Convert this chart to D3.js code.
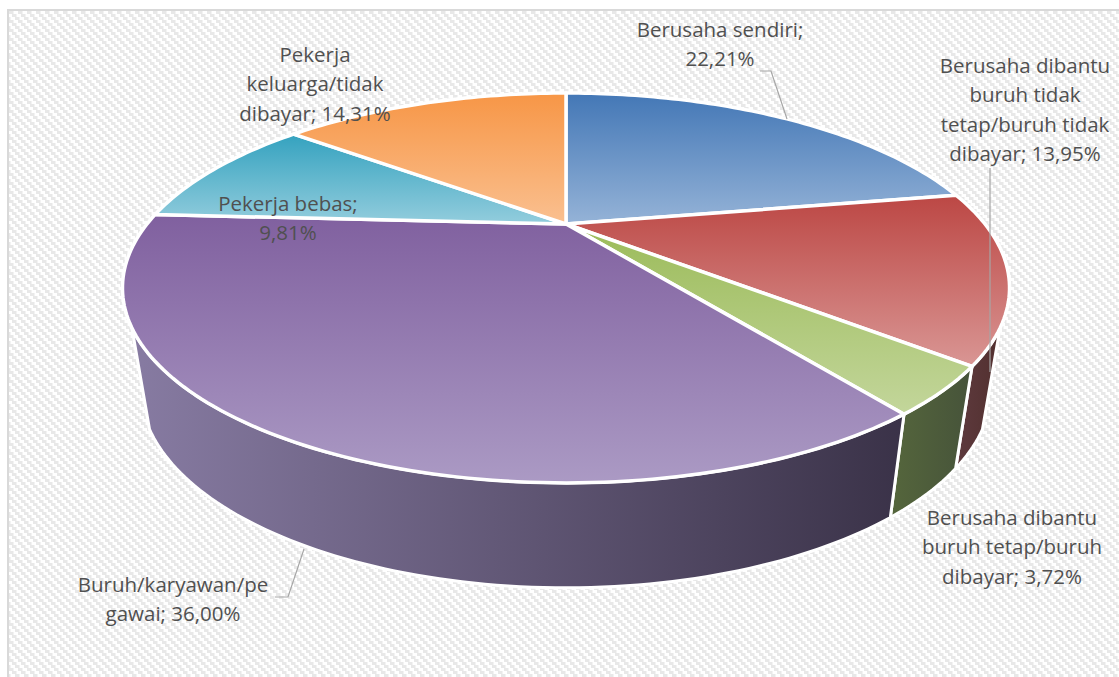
<!DOCTYPE html>
<html><head><meta charset="utf-8">
<style>html,body{margin:0;padding:0;background:#fff}svg{display:block}</style>
<script src="https://cdn.jsdelivr.net/npm/d3@7/dist/d3.min.js"></script>
</head><body><svg id="c" width="1119" height="677"></svg>
<script>
const categories = ["Berusaha sendiri","Berusaha dibantu buruh tidak tetap/buruh tidak dibayar","Berusaha dibantu buruh tetap/buruh dibayar","Buruh/karyawan/pegawai","Pekerja bebas","Pekerja keluarga/tidak dibayar"];
const values = [22.21,13.95,3.72,36.00,9.81,14.31];
const topColors = [["#4377b6","#95b3d7"],["#bc4744","#d99694"],["#9bbb59","#c3d69b"],["#80609f","#ab9ac4"],["#34a2bf","#93cddd"],["#f79646","#fac090"]];
const wallColors = [null,["#5e3a3e","#52302f"],["#55663c","#46533a"],["#877ba2","#3a3248"],null,null];
const labelLines = [["Berusaha sendiri;","22,21%"],["Berusaha dibantu","buruh tidak","tetap/buruh tidak","dibayar; 13,95%"],["Berusaha dibantu","buruh tetap/buruh","dibayar; 3,72%"],["Buruh/karyawan/pe","gawai; 36,00%"],["Pekerja bebas;","9,81%"],["Pekerja","keluarga/tidak","dibayar; 14,31%"]];
const labelAnchor = [[720,30],[1025,66],[1012,518],[173,585],[288,204],[315,55]];
const leaders = [[[760,71],[771,71],[787,119]],[[990,168],[990,372]],[[275,597],[288,597],[304,549]]];

const svg = d3.select("#c"), defs = svg.append("defs");
// background weave
const cell=3, tile=9;
const pat = defs.append("pattern").attr("id","weave").attr("patternUnits","userSpaceOnUse").attr("width",tile).attr("height",tile).attr("x",9).attr("y",11);
pat.append("rect").attr("width",tile).attr("height",tile).attr("fill","#fff");
d3.range(0,tile,cell).forEach(r=>{
  pat.append("rect").attr("x",r).attr("y",r).attr("width",4.5).attr("height",cell).attr("fill","#e8e8e8");
  pat.append("rect").attr("x",r-tile).attr("y",r).attr("width",4.5).attr("height",cell).attr("fill","#e8e8e8");
});
svg.append("rect").attr("x",9).attr("y",11).attr("width",1110).attr("height",666).attr("fill","url(#weave)");
svg.append("rect").attr("x",7).attr("y",9).attr("width",1112).attr("height",2).attr("fill","#d9d9d9");
svg.append("rect").attr("x",7).attr("y",9).attr("width",2).attr("height",668).attr("fill","#d9d9d9");

// perspective projection of a disc
const cx=566, c=0.328;
const topDisc = {R:419,a:-100.5,b:224}, lowDisc = {R:402,a:-72,b:323};
const proj=(d,t,r=1)=>{const u=r*Math.sin(t),v=r*Math.cos(t),w=1+c*v;return [cx+d.R*u/w,(d.a*v+d.b)/w];};
const arcPts=(d,t0,t1)=>{const n=Math.max(2,Math.ceil(Math.abs(t1-t0)/0.02));return d3.range(n+1).map(i=>proj(d,t0+(t1-t0)*i/n));};
const line=d3.line();
const arcs=d3.pie().sort(null).startAngle(0).endAngle(2*Math.PI)(values);
const rad=d=>d*Math.PI/180, wallMin=rad(120), wallMax=rad(240);

arcs.forEach((a,i)=>{
  const g=defs.append("linearGradient").attr("id","t"+i).attr("x1",0).attr("y1",0).attr("x2",0).attr("y2",1);
  g.append("stop").attr("offset",0).attr("stop-color",topColors[i][0]);
  g.append("stop").attr("offset",1).attr("stop-color",topColors[i][1]);
  if(wallColors[i]){
    const w=defs.append("linearGradient").attr("id","w"+i).attr("x1",0).attr("y1",0).attr("x2",1).attr("y2",0);
    w.append("stop").attr("offset",0).attr("stop-color",wallColors[i][0]);
    w.append("stop").attr("offset",1).attr("stop-color",wallColors[i][1]);
  }
});
// walls
arcs.forEach((a,i)=>{
  if(!wallColors[i]) return;
  const t0=Math.max(a.startAngle,wallMin), t1=Math.min(a.endAngle,wallMax);
  const pts=arcPts(topDisc,t0,t1).concat(arcPts(lowDisc,t1,t0));
  svg.append("path").attr("d",line(pts)+"Z").attr("fill","url(#w"+i+")").attr("stroke","#fff").attr("stroke-width",3).attr("stroke-linejoin","round");
});
// top faces
arcs.forEach((a,i)=>{
  const pts=[[cx,topDisc.b]].concat(arcPts(topDisc,a.startAngle,a.endAngle));
  svg.append("path").attr("d",line(pts)+"Z").attr("fill","url(#t"+i+")").attr("stroke","#fff").attr("stroke-width",3.5).attr("stroke-linejoin","round");
});
// leaders
leaders.forEach(l=>svg.append("path").attr("d",line(l)).attr("fill","none").attr("stroke","#a6a6a6").attr("stroke-width",1.2));
// labels
const lh=29.3;
labelLines.forEach((ls,i)=>{
  const t=svg.append("text").attr("text-anchor","middle").attr("font-family","'Open Sans', sans-serif").attr("font-size",20.5).attr("fill","#505050");
  ls.forEach((s,j)=>t.append("tspan").attr("x",labelAnchor[i][0]).attr("y",labelAnchor[i][1]+j*lh+7).text(s));
});
</script></body></html>
